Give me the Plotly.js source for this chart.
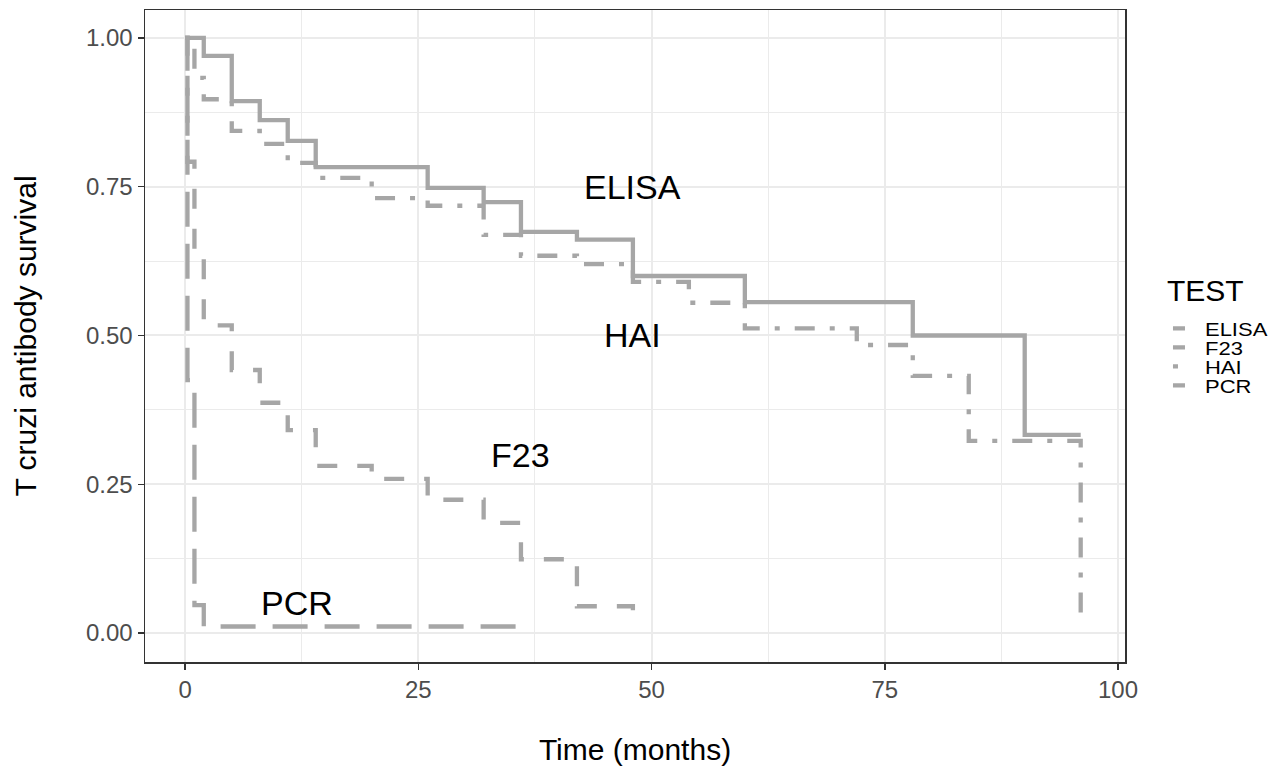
<!DOCTYPE html>
<html>
<head>
<meta charset="utf-8">
<script src="https://cdn.plot.ly/plotly-3.0.1.min.js"></script>
<style>html,body{margin:0;padding:0;background:#fff;}#chart{width:1288px;height:770px;}</style>
</head>
<body>
<div id="chart"></div>
<script>
// Kaplan-Meier step data
var elisaTime = [0, 2, 5, 8, 11, 14, 26, 32, 36, 42, 48, 60, 78, 90, 96];
var elisaSurv = [1.00, 0.970, 0.894, 0.862, 0.827, 0.783, 0.748, 0.724, 0.674, 0.661, 0.600, 0.556, 0.500, 0.333, 0.333];

var f23Time = [0, 0.25, 1, 2, 5, 8, 11, 14, 20, 26, 32, 36, 42, 48];
var f23Surv = [1.00, 0.792, 0.632, 0.517, 0.442, 0.387, 0.341, 0.281, 0.259, 0.224, 0.185, 0.124, 0.045, 0.034];

var haiTime = [0, 1, 2, 5, 8, 11, 14, 20, 26, 32, 36, 42, 48, 54, 60, 72, 78, 84, 96];
var haiSurv = [1.00, 0.933, 0.897, 0.844, 0.822, 0.790, 0.765, 0.731, 0.718, 0.669, 0.634, 0.620, 0.590, 0.555, 0.512, 0.484, 0.432, 0.323, 0.018];

var pcrTime = [0, 0.25, 1, 2, 36];
var pcrSurv = [1.00, 0.425, 0.047, 0.011, 0.011];

var testNames = ["ELISA", "F23", "HAI", "PCR"];
var labelX = [48, 36, 48, 12];
var labelY = [0.75, 0.30, 0.50, 0.05];
var labelText = ["ELISA", "F23", "HAI", "PCR"];

var xTicks = [0, 25, 50, 75, 100];
var yTicks = [0, 0.25, 0.5, 0.75, 1];

var grey = "#a6a6a6";
var lw = 4.3;
var dashes = ["solid", "20px,20px", "5px,15px,20px,15px", "35px,17px"];
var times = [elisaTime, f23Time, haiTime, pcrTime];
var survs = [elisaSurv, f23Surv, haiSurv, pcrSurv];

var traces = testNames.map(function (n, i) {
  return {
    x: times[i], y: survs[i], name: n, type: "scatter", mode: "lines",
    line: {shape: "hv", color: grey, width: lw, dash: dashes[i]},
    hoverinfo: "x+y+name"
  };
});

var annotations = labelText.map(function (t, i) {
  return {x: labelX[i], y: labelY[i], xref: "x", yref: "y", text: t, showarrow: false,
    font: {family: "Liberation Sans, Arial, sans-serif", size: 34, color: "#000"},
    xanchor: "center", yanchor: "middle"};
});

var axisCommon = {
  showline: true, mirror: true, linecolor: "#333333", linewidth: 1.5,
  ticks: "outside", ticklen: 6, tickwidth: 1.5, tickcolor: "#333333",
  tickfont: {family: "Liberation Sans, Arial, sans-serif", size: 24, color: "#4d4d4d"},
  showgrid: true, gridcolor: "#ebebeb", gridwidth: 2, zeroline: false,
  automargin: false
};

var layout = {
  width: 1288, height: 770,
  margin: {l: 145, r: 163, t: 10, b: 108},
  paper_bgcolor: "#ffffff", plot_bgcolor: "#ffffff",
  font: {family: "Liberation Sans, Arial, sans-serif", color: "#000"},
  xaxis: Object.assign({}, axisCommon, {
    range: [-4.3, 100.75], tickmode: "array", tickvals: xTicks,
    ticktext: xTicks.map(String),
    minor: {tickmode: "array", tickvals: [12.5, 37.5, 62.5, 87.5], showgrid: true, gridcolor: "#ebebeb", gridwidth: 1, ticks: ""},
    title: {text: "Time (months)", font: {size: 30, color: "#000"}, standoff: 36}
  }),
  yaxis: Object.assign({}, axisCommon, {
    range: [-0.0487, 1.047], tickmode: "array", tickvals: yTicks,
    ticktext: yTicks.map(function (v) { return v.toFixed(2); }),
    minor: {tickmode: "array", tickvals: [0.125, 0.375, 0.625, 0.875], showgrid: true, gridcolor: "#ebebeb", gridwidth: 1, ticks: ""},
    title: {text: "T cruzi antibody survival", font: {size: 30, color: "#000"}, standoff: 40}
  }),
  showlegend: true,
  legend: {
    x: 1.0408, y: 0.614, xanchor: "left", yanchor: "top",
    title: {text: "TEST", font: {size: 30, color: "#000"}},
    font: {size: 22, color: "#000"},
    itemwidth: 30, tracegroupgap: 0, bgcolor: "rgba(0,0,0,0)"
  },
  annotations: annotations
};

Plotly.newPlot("chart", traces, layout, {displayModeBar: false, staticPlot: true}).then(function () {
  // ggplot-style short legend keys and tight key spacing
  document.querySelectorAll("#chart .legend .legendlines path").forEach(function (p) {
    p.setAttribute("d", "M8,0h12");
  });
  // vertically compressed key labels, as in the reference
  var sy = 0.8;
  document.querySelectorAll("#chart .legend .legendtext").forEach(function (t) {
    var y = parseFloat(t.getAttribute("y") || "0");
    t.setAttribute("transform", "translate(0," + (y * (1 - sy) - 1) + ") scale(1," + sy + ")");
  });
  var items = document.querySelectorAll("#chart .legend .traces");
  if (items.length) {
    var m = /translate\(\s*([-\d.]+)[ ,]+([-\d.]+)\s*\)/.exec(items[0].getAttribute("transform") || "");
    if (m) {
      var tx = parseFloat(m[1]), ty = parseFloat(m[2]) + 7;
      items.forEach(function (g, i) {
        g.setAttribute("transform", "translate(" + tx + "," + (ty + i * 19) + ")");
      });
    }
  }
});
</script>
</body>
</html>
